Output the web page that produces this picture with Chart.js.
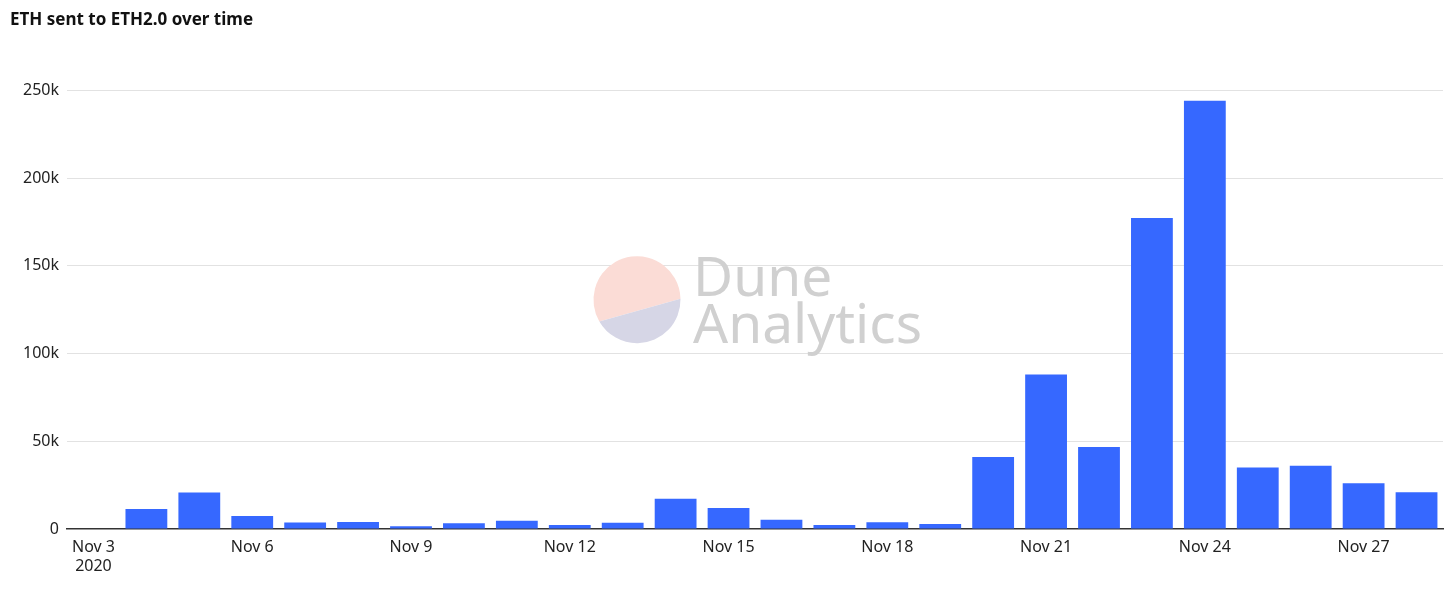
<!DOCTYPE html>
<html lang="en">
<head>
  <meta charset="UTF-8" />
  <title>ETH sent to ETH2.0 over time</title>
  <script src="https://cdn.jsdelivr.net/npm/chart.js"></script>
  <style>
    body {
      margin: 0;
      background: #fff;
      font-family: "Noto Sans", Arial, sans-serif;
    }

    #wrap {
      position: relative;
      width: 1456px;
      height: 593px;
    }
  </style>
</head>
<body>
  <div id="wrap">
    <canvas id="ethChart"></canvas>
  </div>

  <script>
    // days on the x axis (Nov 3 has no deposits)
    const categories = [
      'Nov 3', 'Nov 4', 'Nov 5', 'Nov 6', 'Nov 7', 'Nov 8', 'Nov 9', 'Nov 10', 'Nov 11',
      'Nov 12', 'Nov 13', 'Nov 14', 'Nov 15', 'Nov 16', 'Nov 17', 'Nov 18', 'Nov 19',
      'Nov 20', 'Nov 21', 'Nov 22', 'Nov 23', 'Nov 24', 'Nov 25', 'Nov 26', 'Nov 27', 'Nov 28'
    ];

    // ETH deposited per day
    const ethSent = [
      null, 11400, 20800, 7400, 3700, 4000, 1500, 3300, 4700,
      2300, 3600, 17200, 12000, 5300, 2300, 3800, 2900,
      41000, 88000, 46700, 177200, 244100, 35000, 36000, 26100, 21000
    ];

    const yTicks = [0, 50000, 100000, 150000, 200000, 250000];
    const yearLabel = '2020';

    const tickFont = { family: '"Noto Sans", Arial, sans-serif', size: 16 };

    // faint "Dune Analytics" mark in the middle of the plot
    const watermark = {
      id: 'watermark',
      beforeDatasetsDraw(chart) {
        const { ctx, chartArea } = chart;
        const cx = (chartArea.left + chartArea.right) / 2;
        const cy = (chartArea.top + chartArea.bottom) / 2 - 10;
        const r = 43.5;
        const circleX = cx - 118;
        const a1 = 150 * Math.PI / 180;
        const a2 = -1.3 * Math.PI / 180;

        ctx.save();
        ctx.beginPath();
        ctx.arc(circleX, cy, r, a1, a2, false);
        ctx.closePath();
        ctx.fillStyle = '#fbdcd6';
        ctx.fill();

        ctx.beginPath();
        ctx.arc(circleX, cy, r, a2, a1, false);
        ctx.closePath();
        ctx.fillStyle = '#d6d6e6';
        ctx.fill();

        ctx.fillStyle = '#d0d0d0';
        ctx.font = '55px "Noto Sans", Arial, sans-serif';
        ctx.textAlign = 'left';
        ctx.textBaseline = 'alphabetic';
        const tx = cx - 62;
        ctx.fillText('Dune', tx, cy - 4);
        ctx.fillText('Analytics', tx, cy + 43);
        ctx.restore();
      }
    };

    new Chart(document.getElementById('ethChart'), {
      type: 'bar',
      data: {
        labels: categories,
        datasets: [{
          label: 'ETH sent',
          data: ethSent,
          backgroundColor: '#3668ff',
          borderWidth: 0,
          barPercentage: 0.79,
          categoryPercentage: 1
        }]
      },
      options: {
        responsive: true,
        maintainAspectRatio: false,
        animation: false,
        layout: {
          padding: { left: 10, right: 13, top: 0, bottom: 0 }
        },
        plugins: {
          legend: { display: false },
          tooltip: { enabled: false },
          title: {
            display: true,
            text: 'ETH sent to ETH2.0 over time',
            align: 'start',
            color: '#111',
            font: { family: '"Noto Sans", Arial, sans-serif', size: 17, weight: 'bold' },
            padding: { top: 10, bottom: 60 }
          }
        },
        scales: {
          x: {
            grid: { display: false, drawTicks: false },
            border: { display: true, color: '#333', width: 1.5 },
            ticks: {
              autoSkip: false,
              maxRotation: 0,
              padding: 9,
              color: '#222',
              font: { ...tickFont, lineHeight: 1.2 },
              callback: function (value, index) {
                if (index % 3 !== 0) return '';
                const label = this.getLabelForValue(value);
                return index === 0 ? [label, yearLabel] : label;
              }
            },
            afterFit: scale => { scale.height = 64; }
          },
          y: {
            min: 0,
            max: 250000,
            afterBuildTicks: scale => {
              scale.ticks = yTicks.map(v => ({ value: v }));
            },
            grid: {
              color: ctx => ctx.tick && ctx.tick.value === 0 ? 'rgba(0,0,0,0)' : '#e2e2e2',
              drawTicks: false
            },
            border: { display: false },
            ticks: {
              padding: 8,
              color: '#222',
              font: tickFont,
              callback: v => v === 0 ? '0' : (v / 1000) + 'k'
            },
            afterFit: scale => { scale.width = 57; }
          }
        }
      },
      plugins: [watermark]
    });
  </script>
</body>
</html>
